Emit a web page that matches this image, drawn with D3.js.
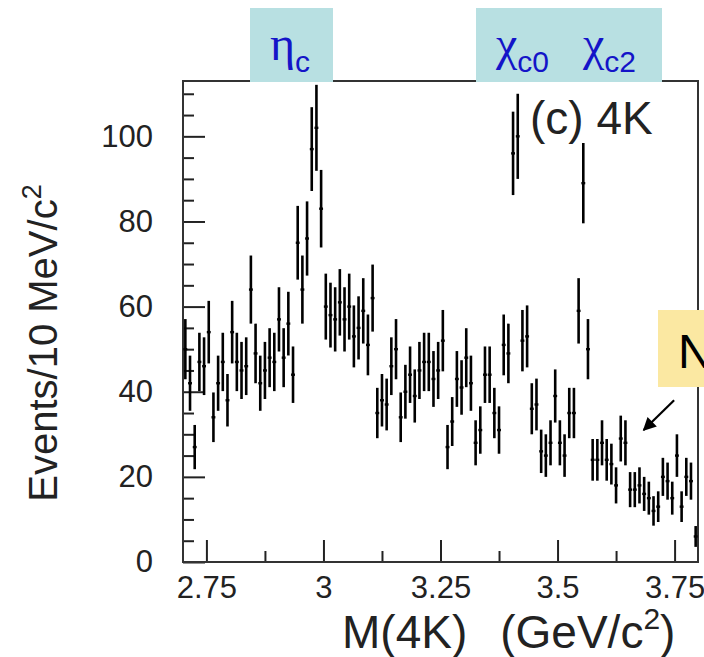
<!DOCTYPE html>
<html>
<head>
<meta charset="utf-8">
<script src="https://cdn.jsdelivr.net/npm/d3@7"></script>
<style>
  body { margin: 0; background: #fff; }
  svg { display: block; font-family: "Liberation Sans", Arial, sans-serif; }
</style>
</head>
<body>
<div id="chart"></div>
<script>
// 4K invariant mass, 10 MeV bins from 2.70 to 3.80 GeV/c^2
const binStart = 2.70;
const binWidth = 0.01;
const counts = [
  50, 42, 27, 47, 46, 54, 34, 42, 47, 38,
  54, 47, 45, 46, 64, 49, 42, 45, 48, 47,
  57, 48, 56, 44, 75, 64, 76, 97, 102, 83,
  60, 58, 57, 61, 57, 60, 53, 55, 59, 51,
  62, 35, 38, 37, 46, 50, 34, 40, 44, 39,
  45, 47, 47, 43, 45, 52, 27, 33, 43, 41,
  48, 42, 28, 31, 44, 44, 35, 31, 51, 49,
  96, 100, 52, 53, 36, 37, 26, 25, 28, 39,
  28, 25, 35, 35, 59, 89, 50, 24, 24, 28,
  24, 23, 18, 29, 28, 17, 17, 18, 16, 15,
  12, 13, 20, 19, 15, 25, 13, 20, 19, 6
];

const xMajor = [2.75, 3, 3.25, 3.5, 3.75];
const xMinor = [2.875, 3.125, 3.375, 3.625];
const yMajor = [0, 20, 40, 60, 80, 100];
const yMinor = [5, 10, 15, 25, 30, 35, 45, 50, 55, 65, 70, 75, 85, 90, 95, 105, 110];

// resonance labels: greek letter + subscript
const peakLabels = [
  { g: "\u03B7", sub: "c" },
  { g: "\u03C7", sub: "c0" },
  { g: "\u03C7", sub: "c2" }
];

const width = 704;
const height = 657;
const plot = { left: 183, right: 698, top: 81, bottom: 562 };

const svg = d3.select("#chart").append("svg")
  .attr("width", width)
  .attr("height", height);

const x = d3.scaleLinear().domain([2.7, 3.8]).range([plot.left, plot.right]);
const y = d3.scaleLinear().domain([0, 113]).range([plot.bottom, plot.top]);

const bins = counts.map((c, i) => ({
  lo: binStart + i * binWidth,
  hi: binStart + (i + 1) * binWidth,
  n: c,
  err: Math.sqrt(c)
}));

svg.append("clipPath").attr("id", "clip")
  .append("rect")
  .attr("x", plot.left).attr("y", plot.top)
  .attr("width", plot.right - plot.left).attr("height", plot.bottom - plot.top);

// axes (ticks point inward, ROOT style)
svg.append("g")
  .attr("transform", `translate(0,${plot.bottom})`)
  .call(d3.axisBottom(x).tickValues(xMajor).tickSize(-22).tickPadding(14).tickFormat(d3.format("")));
svg.append("g")
  .attr("transform", `translate(0,${plot.bottom})`)
  .call(d3.axisBottom(x).tickValues(xMinor).tickSize(-11).tickFormat(""));

svg.append("g")
  .attr("transform", `translate(${plot.left},0)`)
  .call(d3.axisLeft(y).tickValues(yMajor).tickSize(-22).tickPadding(30));
svg.append("g")
  .attr("transform", `translate(${plot.left},0)`)
  .call(d3.axisLeft(y).tickValues(yMinor).tickSize(-11).tickFormat(""));

svg.selectAll(".domain").remove();
svg.selectAll(".tick line").attr("stroke", "#222").attr("stroke-width", 2);
svg.selectAll(".tick text")
  .attr("fill", "#222")
  .attr("font-size", 31)
  .attr("font-family", "Liberation Sans, Arial, sans-serif");

// frame
svg.append("rect")
  .attr("x", plot.left).attr("y", plot.top)
  .attr("width", plot.right - plot.left).attr("height", plot.bottom - plot.top)
  .attr("fill", "none")
  .attr("stroke", "#333")
  .attr("stroke-width", 2);

// data points with errors
const pts = svg.append("g").attr("clip-path", "url(#clip)");

pts.selectAll("line.err")
  .data(bins)
  .enter().append("line")
  .attr("class", "err")
  .attr("x1", d => x((d.lo + d.hi) / 2))
  .attr("x2", d => x((d.lo + d.hi) / 2))
  .attr("y1", d => y(d.n - d.err))
  .attr("y2", d => y(d.n + d.err))
  .attr("stroke", "#000")
  .attr("stroke-width", 2.6);

pts.selectAll("line.bin")
  .data(bins)
  .enter().append("line")
  .attr("class", "bin")
  .attr("x1", d => x(d.lo) + 0.4)
  .attr("x2", d => x(d.hi) - 0.4)
  .attr("y1", d => y(d.n))
  .attr("y2", d => y(d.n))
  .attr("stroke", "#000")
  .attr("stroke-width", 2.4);

// axis titles
svg.append("text")
  .attr("transform", "translate(57,343) rotate(-90)")
  .attr("text-anchor", "middle")
  .attr("font-size", 40)
  .attr("fill", "#222")
  .text("Events/10 MeV/c")
  .append("tspan")
  .attr("font-size", 27)
  .attr("dy", -16)
  .text("2");

const xt = svg.append("text")
  .attr("x", 342)
  .attr("y", 648)
  .attr("font-size", 46)
  .attr("fill", "#222");
xt.append("tspan").text("M(4K)");
xt.append("tspan").attr("dx", 33).text("(GeV/c");
xt.append("tspan").attr("font-size", 30).attr("dy", -19).text("2");
xt.append("tspan").attr("dy", 19).text(")");

svg.append("text")
  .attr("x", 530)
  .attr("y", 134)
  .attr("font-size", 46)
  .attr("fill", "#222")
  .text("(c) 4K");

// resonance boxes
const boxes = [
  { x0: 250, x1: 333 },
  { x0: 476, x1: 662 }
];
svg.selectAll("rect.peakbox")
  .data(boxes)
  .enter().append("rect")
  .attr("class", "peakbox")
  .attr("x", d => d.x0).attr("y", 8)
  .attr("width", d => d.x1 - d.x0).attr("height", 74)
  .attr("fill", "#b8e0e2");

const labelX = [270, 496, 583];
peakLabels.forEach((p, i) => {
  const t = svg.append("text")
    .attr("x", labelX[i])
    .attr("y", 60)
    .attr("fill", "#1414c8");
  t.append("tspan")
    .attr("font-family", "Liberation Serif, Times New Roman, serif")
    .attr("font-size", 48)
    .text(p.g);
  t.append("tspan")
    .attr("font-size", 30)
    .attr("dy", 12)
    .text(p.sub);
});

// "N" annotation box and arrow
svg.append("rect")
  .attr("x", 658).attr("y", 310)
  .attr("width", 60).attr("height", 77)
  .attr("fill", "#fbe8a2");
svg.append("text")
  .attr("x", 678).attr("y", 368)
  .attr("font-size", 48)
  .attr("fill", "#000")
  .text("N");

svg.append("defs").append("marker")
  .attr("id", "head")
  .attr("viewBox", "0 0 10 10")
  .attr("refX", 9).attr("refY", 5)
  .attr("markerWidth", 7).attr("markerHeight", 6)
  .attr("orient", "auto")
  .append("path")
  .attr("d", "M0,0L10,5L0,10z")
  .attr("fill", "#000");

svg.append("line")
  .attr("x1", x(3.749)).attr("y1", y(38))
  .attr("x2", x(3.684)).attr("y2", y(31))
  .attr("stroke", "#000")
  .attr("stroke-width", 2.2)
  .attr("marker-end", "url(#head)");
</script>
</body>
</html>
